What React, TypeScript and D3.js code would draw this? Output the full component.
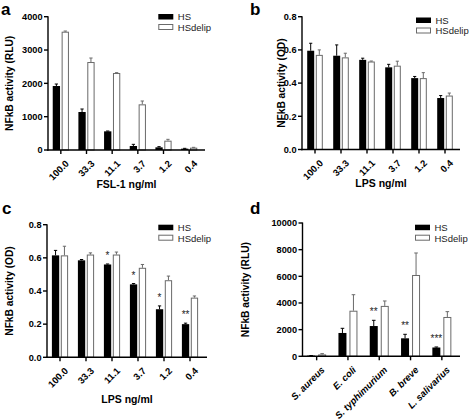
import React from "react";
import * as d3 from "d3";

// ---- Data ----
const doseCats = ["100.0", "33.3", "11.1", "3.7", "1.2", "0.4"];
const bacteriaCats = ["S. aureus", "E. coli", "S. typhimurium", "B. breve", "L. salivarius"];

const aHS = [1920, 1140, 560, 120, 80, 40];
const aHSErr = [60, 90, 10, 50, 20, 10];
const aDel = [3550, 2640, 2310, 1370, 280, 70];
const aDelErr = [20, 120, 10, 100, 40, 10];
const aTicks = [0, 1000, 2000, 3000, 4000];

const bHS = [0.595, 0.565, 0.54, 0.495, 0.43, 0.31];
const bHSErr = [0.045, 0.065, 0.01, 0.018, 0.01, 0.015];
const bDel = [0.57, 0.555, 0.53, 0.505, 0.43, 0.325];
const bDelErr = [0.03, 0.025, 0.003, 0.027, 0.033, 0.015];
const odTicks = [0, 0.2, 0.4, 0.6, 0.8];

const cHS = [0.615, 0.585, 0.56, 0.44, 0.29, 0.2];
const cHSErr = [0.03, 0.005, 0.003, 0.005, 0.02, 0.006];
const cDel = [0.615, 0.62, 0.62, 0.54, 0.465, 0.36];
const cDelErr = [0.055, 0.01, 0.015, 0.02, 0.025, 0.01];
const cStars = ["", "", "*", "*", "*", "**"];

const dHS = [50, 1750, 2270, 1350, 660];
const dHSErr = [10, 350, 430, 300, 40];
const dDel = [140, 3420, 3780, 6100, 2950];
const dDelErr = [60, 1200, 370, 1650, 400];
const dTicks = [0, 2000, 4000, 6000, 8000, 10000];
const dStars = ["", "", "**", "**", "***"];

const FONT = "'Liberation Sans', Arial, Helvetica, sans-serif";
const GRAY = "#6a6a6a";

type PanelProps = {
  letter: string;
  letterX: number;
  letterY: number;
  left: number;
  right: number;
  bandStart: number;
  bandEnd: number;
  top: number;
  bottom: number;
  cats: string[];
  hs: number[];
  hsErr: number[];
  del: number[];
  delErr: number[];
  yMax: number;
  ticks: number[];
  fmt: (v: number) => string;
  yTitle: string;
  yTitleX: number;
  xTitle?: string;
  xTitleY?: number;
  stars?: string[];
  legendX: number;
  legendY: number;
  barW: number;
  gap: number;
  italic?: boolean;
};

function Panel(p: PanelProps) {
  const x = d3.scaleBand<string>().domain(p.cats).range([p.bandStart, p.bandEnd]);
  const y = d3.scaleLinear().domain([0, p.yMax]).range([p.bottom, p.top]);
  const cx = (c: string) => (x(c) as number) + x.bandwidth() / 2;
  const capW = p.barW * 0.45;
  return (
    <g fontFamily={FONT}>
      <text x={p.letterX} y={p.letterY} fontSize={17} fontWeight="bold">{p.letter}</text>
      {/* bars */}
      {p.cats.map((c, i) => {
        const xh = cx(c) - p.gap / 2 - p.barW;
        const xd = cx(c) + p.gap / 2;
        const hsTop = y(p.hs[i] + p.hsErr[i]);
        const delTop = y(p.del[i] + p.delErr[i]);
        return (
          <g key={c}>
            <line x1={xh + p.barW / 2} x2={xh + p.barW / 2} y1={y(p.hs[i])} y2={hsTop} stroke="#000" strokeWidth={1} />
            <line x1={xh + p.barW / 2 - capW / 2} x2={xh + p.barW / 2 + capW / 2} y1={hsTop} y2={hsTop} stroke="#000" strokeWidth={1} />
            <rect x={xh} y={y(p.hs[i])} width={p.barW} height={p.bottom - y(p.hs[i])} fill="#000" />
            <line x1={xd + p.barW / 2} x2={xd + p.barW / 2} y1={y(p.del[i])} y2={delTop} stroke={GRAY} strokeWidth={1} />
            <line x1={xd + p.barW / 2 - capW / 2} x2={xd + p.barW / 2 + capW / 2} y1={delTop} y2={delTop} stroke={GRAY} strokeWidth={1} />
            <rect x={xd + 0.5} y={y(p.del[i]) + 0.5} width={p.barW - 1} height={Math.max(0, p.bottom - y(p.del[i]) - 0.5)} fill="#fff" stroke={GRAY} strokeWidth={1} />
            {p.stars && p.stars[i] ? (
              <text x={xh + p.barW / 2} y={hsTop - 5} textAnchor="middle" fontSize={10} fill="#222">{p.stars[i]}</text>
            ) : null}
          </g>
        );
      })}
      {/* y axis */}
      <line x1={p.left} x2={p.left} y1={p.top - 0.5} y2={p.bottom + 0.7} stroke="#000" strokeWidth={1.4} />
      {p.ticks.map((t) => (
        <g key={t}>
          <line x1={p.left - 4} x2={p.left} y1={y(t)} y2={y(t)} stroke="#000" strokeWidth={1.4} />
          <text x={p.left - 5.5} y={y(t)} dy="0.35em" textAnchor="end" fontSize={9.2} fontWeight="bold">{p.fmt(t)}</text>
        </g>
      ))}
      {/* x axis */}
      <line x1={p.left - 0.7} x2={p.right} y1={p.bottom} y2={p.bottom} stroke="#000" strokeWidth={1.4} />
      {p.cats.map((c) => (
        <g key={c}>
          <line x1={cx(c)} x2={cx(c)} y1={p.bottom} y2={p.bottom + 4} stroke="#000" strokeWidth={1.4} />
          <text
            transform={`translate(${cx(c) + 4},${p.bottom + 9.5}) rotate(-45)`}
            textAnchor="end"
            dy="0.7em"
            fontSize={9.5}
            fontWeight="bold"
            fontStyle={p.italic ? "italic" : "normal"}
          >
            {c}
          </text>
        </g>
      ))}
      {/* titles */}
      <text
        transform={`translate(${p.yTitleX},${(p.top + p.bottom) / 2}) rotate(-90)`}
        textAnchor="middle"
        dy="0.35em"
        fontSize={10.2}
        fontWeight="bold"
      >
        {p.yTitle}
      </text>
      {p.xTitle ? (
        <text x={(p.left + p.right) / 2} y={p.xTitleY} textAnchor="middle" fontSize={10.5} fontWeight="bold">{p.xTitle}</text>
      ) : null}
      {/* legend */}
      <rect x={p.legendX} y={p.legendY} width={15} height={5.5} fill="#000" />
      <text x={p.legendX + 19.5} y={p.legendY + 3} dy="0.35em" fontSize={9.5} fill="#222">HS</text>
      <rect x={p.legendX + 0.5} y={p.legendY + 10.5} width={14} height={5} fill="#fff" stroke={GRAY} strokeWidth={1} />
      <text x={p.legendX + 19.5} y={p.legendY + 13.5} dy="0.35em" fontSize={9.5} fill="#222">HSdelip</text>
    </g>
  );
}

const fmtInt = (v: number) => d3.format("d")(v);
const fmtOD = (v: number) => d3.format(".1f")(v);

export default function App() {
  return (
    <svg
      width={472}
      height={420}
      viewBox="0 0 472 420"
      style={{ position: "absolute", left: 0, top: 0, background: "#fff" }}
    >
      <rect width={472} height={420} fill="#fff" />
      <Panel
        letter="a" letterX={1} letterY={15}
        left={48} right={205} bandStart={48} bandEnd={202} top={16.7} bottom={150}
        cats={doseCats} hs={aHS} hsErr={aHSErr} del={aDel} delErr={aDelErr}
        yMax={4000} ticks={aTicks} fmt={fmtInt}
        yTitle="NFkB activity (RLU)" yTitleX={9}
        xTitle="FSL-1 ng/ml" xTitleY={188}
        legendX={158.3} legendY={14} barW={7.3} gap={1.6}
      />
      <Panel
        letter="b" letterX={250} letterY={15}
        left={302} right={460} bandStart={302} bandEnd={458} top={16.7} bottom={149.5}
        cats={doseCats} hs={bHS} hsErr={bHSErr} del={bDel} delErr={bDelErr}
        yMax={0.8} ticks={odTicks} fmt={fmtOD}
        yTitle="NFkB activity (OD)" yTitleX={281}
        xTitle="LPS ng/ml" xTitleY={187}
        legendX={416} legendY={17.5} barW={7} gap={1.6}
      />
      <Panel
        letter="c" letterX={2} letterY={214}
        left={47} right={207} bandStart={47} bandEnd={203} top={224.7} bottom={357.3}
        cats={doseCats} hs={cHS} hsErr={cHSErr} del={cDel} delErr={cDelErr}
        yMax={0.8} ticks={odTicks} fmt={fmtOD}
        yTitle="NFkB activity (OD)" yTitleX={9}
        xTitle="LPS ng/ml" xTitleY={403}
        stars={cStars}
        legendX={158.3} legendY={224.7} barW={7.3} gap={1.6}
      />
      <Panel
        letter="d" letterX={250} letterY={214}
        left={302.5} right={460} bandStart={301} bandEnd={457.5} top={223} bottom={356.3}
        cats={bacteriaCats} hs={dHS} hsErr={dHSErr} del={dDel} delErr={dDelErr}
        yMax={10000} ticks={dTicks} fmt={fmtInt}
        yTitle="NFkB activity (RLU)" yTitleX={245}
        stars={dStars} italic
        legendX={415} legendY={224.7} barW={8} gap={3}
      />
    </svg>
  );
}
